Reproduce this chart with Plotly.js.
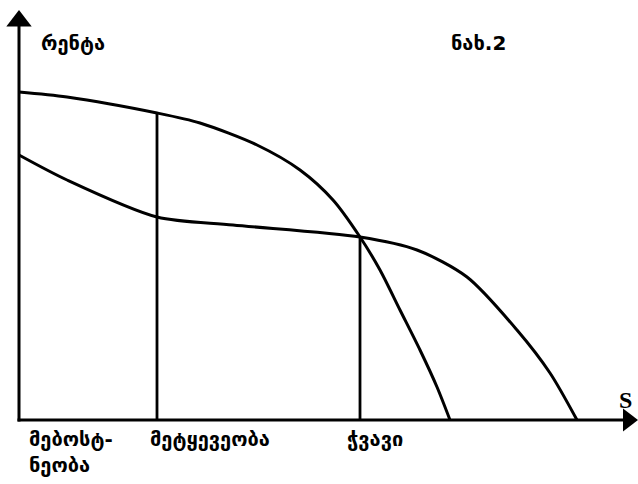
<!DOCTYPE html>
<html>
<head>
<meta charset="utf-8">
<script src="https://cdn.plot.ly/plotly-3.0.1.min.js"></script>
<style>
  html, body { margin: 0; padding: 0; background: #fff; }
  #chart { width: 638px; height: 484px; }
</style>
</head>
<body>
<div id="chart"></div>
<script>
// rent curves (S on x, rent on y)
const upperX = [0, 48, 138, 181, 238, 281, 314, 341, 361, 381, 401, 418, 431];
const upperY = [328, 323, 307, 297, 275, 250, 220, 183, 150, 110, 70, 33, 0];

const lowerX = [0, 48, 138, 214, 341, 398, 448, 498, 531, 558];
const lowerY = [265, 240, 203, 195, 183, 170, 143, 90, 47, 0];

// zone borders
const borderX = [138, 341];
const borderTop = [307, 183];

const zoneLabels = ['მებოსტ-<br>ნეობა', 'მეტყევეობა', 'ჭვავი'];
const zoneLabelX = [8, 129, 326];

// axis ends
const yAxisTop = 410;
const xAxisEnd = 619;

const black = '#000';
const font = { family: 'DejaVu Sans', size: 20, color: black, weight: 'bold' };

const traces = [
    { x: upperX, y: upperY, mode: 'lines', line: { color: black, width: 3, shape: 'spline', smoothing: 0.8 } },
    { x: lowerX, y: lowerY, mode: 'lines', line: { color: black, width: 3, shape: 'spline', smoothing: 0.8 } },
];
borderX.forEach((bx, i) => {
    traces.push({ x: [bx, bx], y: [0, borderTop[i]], mode: 'lines', line: { color: black, width: 2.8 } });
});

// axes and their arrow heads
traces.push({ x: [0, 0], y: [-1.5, yAxisTop - 14], mode: 'lines', line: { color: black, width: 3 } });
traces.push({ x: [-1.5, xAxisEnd - 12], y: [0, 0], mode: 'lines', line: { color: black, width: 3 } });
traces.push({ x: [0], y: [yAxisTop - 11], mode: 'markers', cliponaxis: false,
    marker: { symbol: 'triangle-up', size: 22, color: black, line: { width: 0 } } });
traces.push({ x: [xAxisEnd - 10], y: [0], mode: 'markers', cliponaxis: false,
    marker: { symbol: 'triangle-right', size: 20, color: black, line: { width: 0 } } });

const annotations = [
    { x: 20, y: 377, text: 'რენტა', showarrow: false, xanchor: 'left', yanchor: 'middle', font: font },
    { x: 430, y: 377, text: 'ნახ.2', showarrow: false, xanchor: 'left', yanchor: 'middle', font: font },
    { x: 606, y: 20, text: 'S', showarrow: false, xanchor: 'center', yanchor: 'middle',
      font: { family: 'Liberation Serif', size: 24, color: black, weight: 'bold' } },
];
zoneLabels.forEach((t, i) => {
    annotations.push({ x: zoneLabelX[i], y: -5, text: t, showarrow: false, xanchor: 'left', yanchor: 'top',
        align: 'left', font: font });
});

const layout = {
    width: 638,
    height: 484,
    margin: { l: 0, r: 0, t: 0, b: 0 },
    paper_bgcolor: '#fff',
    plot_bgcolor: '#fff',
    showlegend: false,
    xaxis: { range: [-19, 619], visible: false, fixedrange: true },
    yaxis: { range: [-64, 420], visible: false, fixedrange: true },
    annotations: annotations,
};

Plotly.newPlot('chart', traces, layout, { displayModeBar: false, staticPlot: true });
</script>
</body>
</html>
